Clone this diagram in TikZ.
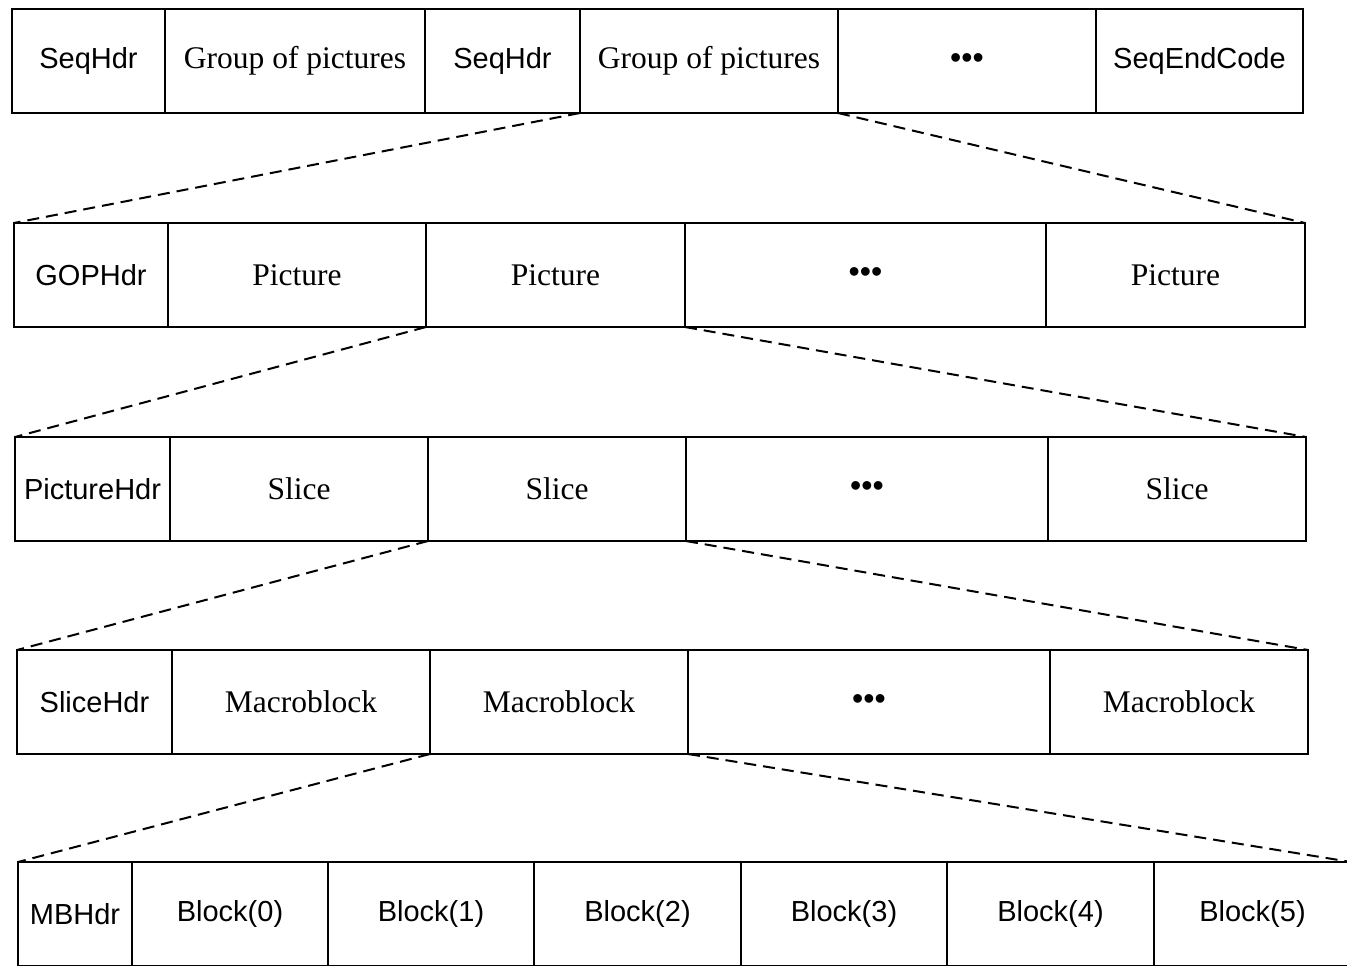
\documentclass[tikz,border=0pt]{standalone}
\usepackage{fontspec}
\setmainfont{Liberation Serif}
\setsansfont{Liberation Sans}
\usetikzlibrary{positioning}

\newcommand{\etcdots}{{\sffamily\fontsize{32}{32}\selectfont •••}}

\begin{document}
\begin{tikzpicture}[
  x=1pt, y=-1pt,
  cell/.style={draw, line width=2.2pt, outer sep=0pt, inner sep=0pt, minimum height=104pt, font=\fontsize{31.5}{33}\selectfont},
  hdr/.style={cell, font=\sffamily\fontsize{29}{31}\selectfont},
  fan/.style={line width=2pt, dash pattern=on 12pt off 7pt},
]
\useasboundingbox (0,0) rectangle (1347,966);

% sequence layer
\node[hdr, minimum width=153pt, anchor=north west] (seqA) at (12,9) {SeqHdr};
\node[cell, minimum width=260pt, right=0pt of seqA] (gopA) {Group of pictures};
\node[hdr, minimum width=155pt, right=0pt of gopA] (seqB) {SeqHdr};
\node[cell, minimum width=258pt, right=0pt of seqB] (gopB) {Group of pictures};
\node[cell, minimum width=258pt, right=0pt of gopB] (dotsA) {\etcdots};
\node[hdr, minimum width=207pt, right=0pt of dotsA] (seqend) {SeqEndCode};

% GOP layer
\node[hdr, minimum width=154pt, anchor=north west] (gophdr) at (14,223) {GOPHdr};
\node[cell, minimum width=258pt, right=0pt of gophdr] (picA) {Picture};
\node[cell, minimum width=259pt, right=0pt of picA] (picB) {Picture};
\node[cell, minimum width=361pt, right=0pt of picB] (dotsB) {\etcdots};
\node[cell, minimum width=259pt, right=0pt of dotsB] (picC) {Picture};

% picture layer
\node[hdr, minimum width=155pt, anchor=north west] (pichdr) at (15,437) {PictureHdr};
\node[cell, minimum width=258pt, right=0pt of pichdr] (sliceA) {Slice};
\node[cell, minimum width=258pt, right=0pt of sliceA] (sliceB) {Slice};
\node[cell, minimum width=362pt, right=0pt of sliceB] (dotsC) {\etcdots};
\node[cell, minimum width=258pt, right=0pt of dotsC] (sliceC) {Slice};

% slice layer
\node[hdr, minimum width=155pt, anchor=north west] (slicehdr) at (17,650) {SliceHdr};
\node[cell, minimum width=258pt, right=0pt of slicehdr] (mbA) {Macroblock};
\node[cell, minimum width=258pt, right=0pt of mbA] (mbB) {Macroblock};
\node[cell, minimum width=362pt, right=0pt of mbB] (dotsD) {\etcdots};
\node[cell, minimum width=258pt, right=0pt of dotsD] (mbC) {Macroblock};

% macroblock layer
\node[hdr, minimum width=114pt, anchor=north west] (mbhdr) at (18,862) {MBHdr};
\node[hdr, minimum width=196pt, right=0pt of mbhdr] (blk0) {Block(0)};
\node[hdr, minimum width=206pt, right=0pt of blk0] (blk1) {Block(1)};
\node[hdr, minimum width=207pt, right=0pt of blk1] (blk2) {Block(2)};
\node[hdr, minimum width=206pt, right=0pt of blk2] (blk3) {Block(3)};
\node[hdr, minimum width=207pt, right=0pt of blk3] (blk4) {Block(4)};
\node[hdr, minimum width=197pt, right=0pt of blk4] (blk5) {Block(5)};

% expansions
\draw[fan] (gopB.south west) -- (gophdr.north west);
\draw[fan] (gopB.south east) -- (picC.north east);
\draw[fan] (picB.south west) -- (pichdr.north west);
\draw[fan] (picB.south east) -- (sliceC.north east);
\draw[fan] (sliceB.south west) -- (slicehdr.north west);
\draw[fan] (sliceB.south east) -- (mbC.north east);
\draw[fan] (mbB.south west) -- (mbhdr.north west);
\draw[fan] (mbB.south east) -- (blk5.north east);
\end{tikzpicture}
\end{document}
